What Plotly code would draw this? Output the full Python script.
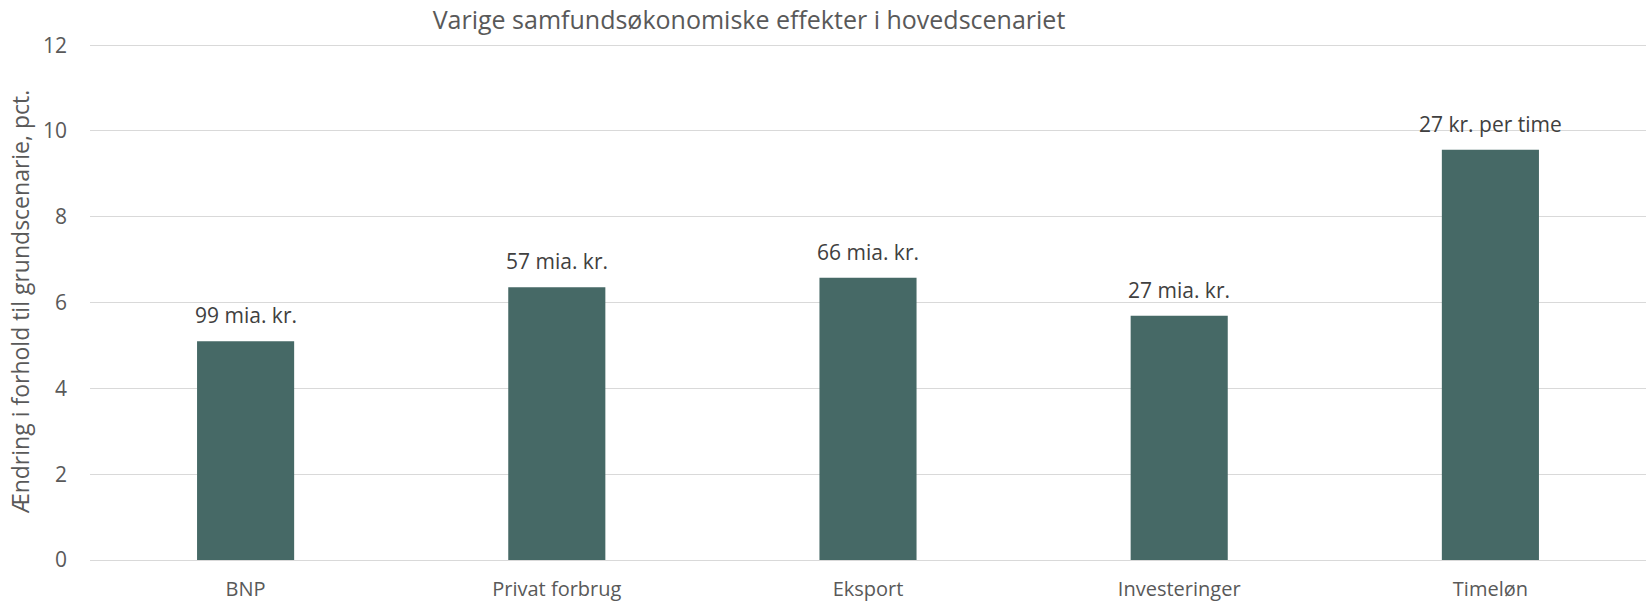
import plotly.graph_objects as go

categories = ["BNP", "Privat forbrug", "Eksport", "Investeringer", "Timeløn"]
values = [5.1, 6.36, 6.58, 5.69, 9.56]
labels = ["99 mia. kr.", "57 mia. kr.", "66 mia. kr.", "27 mia. kr.", "27 kr. per time"]
y_ticks = [0, 2, 4, 6, 8, 10, 12]

BAR = "#466966"
FONT = "Open Sans"

W, H = 1650, 603

fig = go.Figure()
fig.add_trace(go.Bar(x=categories, y=values, marker=dict(color=BAR, line=dict(width=0)),
                     showlegend=False, hoverinfo="skip"))

for c, v, t in zip(categories, values, labels):
    fig.add_annotation(x=c, y=v, text=t, showarrow=False, yanchor="bottom", yshift=10,
                       font=dict(family=FONT, size=21, color="#404040"))

fig.update_layout(
    width=W, height=H,
    margin=dict(l=90, r=4, t=43, b=43),
    paper_bgcolor="white", plot_bgcolor="white",
    bargap=0.688,
    title=dict(text="Varige samfundsøkonomiske effekter i hovedscenariet",
               x=749 / W, xanchor="center", y=1 - 20 / H, yanchor="middle",
               font=dict(family=FONT, size=25, color="#595959")),
    font=dict(family=FONT, color="#595959"),
)
fig.update_xaxes(showgrid=False, showline=False, zeroline=False, ticks="", automargin=False,
                 tickfont=dict(family=FONT, size=20, color="#595959"),
                 ticklabelstandoff=15)
fig.update_yaxes(range=[0, 12.05], tickvals=y_ticks, showgrid=True, gridcolor="#d9d9d9", gridwidth=1.3,
                 zeroline=True, zerolinecolor="#d9d9d9", zerolinewidth=1.3, showline=False, ticks="",
                 automargin=False,
                 tickfont=dict(family=FONT, size=21, color="#595959"), ticklabelstandoff=22,
                 title=dict(text="Ændring i forhold til grundscenarie, pct.",
                            font=dict(family=FONT, size=23, color="#595959"), standoff=6))

fig.write_html("out.html", config={"displayModeBar": False},
               post_script="document.body.style.margin='0';document.body.style.overflow='hidden';")
